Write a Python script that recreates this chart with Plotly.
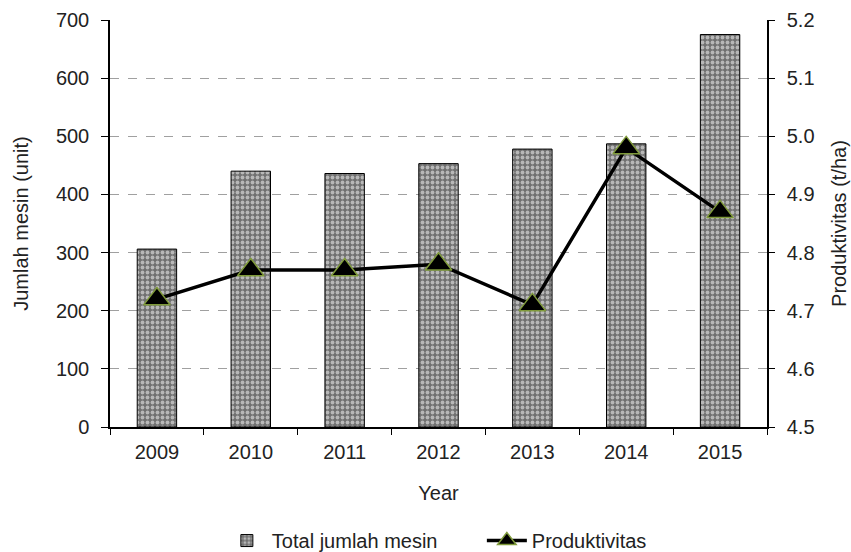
import plotly.graph_objects as go

years = ["2009", "2010", "2011", "2012", "2013", "2014", "2015"]
total_mesin = [306, 440, 436, 453, 478, 487, 675]
produktivitas = [4.72, 4.77, 4.77, 4.78, 4.71, 4.98, 4.87]

FONT = "Liberation Sans, Arial, Helvetica, sans-serif"

fig = go.Figure()
fig.add_trace(go.Bar(
    x=years, y=total_mesin, name="Total jumlah mesin",
    marker=dict(
        color="#8a8a8a",
        line=dict(color="black", width=1),
        pattern=dict(shape=".", fgcolor="white", bgcolor="#707070", size=5, solidity=0.45),
    ),
    width=0.42,
))
fig.add_trace(go.Scatter(
    x=years, y=produktivitas, name="Produktivitas", yaxis="y2",
    mode="lines+markers",
    line=dict(color="black", width=3.5),
    marker=dict(symbol="triangle-up", size=23, color="black",
                line=dict(color="#7f9a3a", width=1.5)),
))

fig.update_layout(
    width=851, height=552,
    margin=dict(l=110, r=84, t=20, b=125, autoexpand=False),
    paper_bgcolor="white", plot_bgcolor="white",
    font=dict(family=FONT, size=20, color="#222"),
    showlegend=True,
    legend=dict(orientation="h", x=0.566, xanchor="center", y=-0.279, yanchor="middle",
                font=dict(size=20), itemwidth=40, traceorder="normal",
                entrywidth=205, entrywidthmode="pixels"),
    xaxis=dict(
        title=dict(text="Year", standoff=24, font=dict(size=20)),
        showline=True, linecolor="black", linewidth=1.5,
        ticks="outside", ticklen=6, tickcolor="black", tickson="boundaries",
        ticklabelstandoff=6,
        showgrid=False, range=[-0.5, 6.5], automargin=False,
    ),
    yaxis=dict(
        title=dict(text="Jumlah mesin (unit)", standoff=22, font=dict(size=20)),
        range=[0, 700], dtick=100,
        showline=True, linecolor="black", linewidth=1.5,
        ticks="outside", ticklen=7, tickcolor="black", ticklabelstandoff=8,
        showgrid=True, gridcolor="#a0a0a0", griddash="dash", gridwidth=1,
        zeroline=False, automargin=False,
    ),
    yaxis2=dict(
        title=dict(text="Produktivitas (t/ha)", standoff=18, font=dict(size=20)),
        overlaying="y", side="right",
        range=[4.5, 5.2], dtick=0.1, tickformat=".1f",
        showline=True, linecolor="black", linewidth=1.5,
        ticks="outside", ticklen=6, tickcolor="black", ticklabelstandoff=8,
        showgrid=False, zeroline=False, automargin=False,
    ),
)

fig.write_html(
    "out.html",
    config={"displayModeBar": False},
    post_script="document.body.style.margin='0';document.body.style.padding='0';",
)
